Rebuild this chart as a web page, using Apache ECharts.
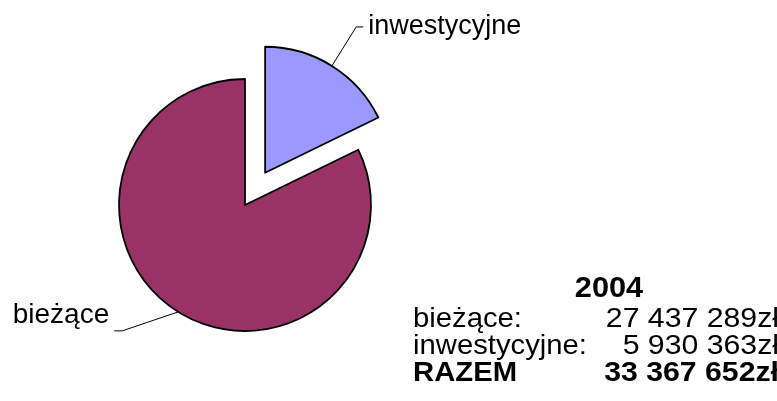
<!DOCTYPE html>
<html>
<head>
<meta charset="utf-8">
<script src="https://cdn.jsdelivr.net/npm/echarts@6/dist/echarts.min.js"></script>
<style>
html,body{margin:0;padding:0;background:#fff;}
#main{width:777px;height:401px;}
</style>
</head>
<body>
<div id="main"></div>
<script>
const categories = ['inwestycyjne', 'bieżące'];
const values = [5930363, 27437289];
const sliceColors = ['#9999FF', '#993366'];
const year = '2004';
const totalLabel = 'RAZEM';
const currency = 'zł';

function fmt(n) {
  return String(n).replace(/\B(?=(\d{3})+(?!\d))/g, ' ') + currency;
}
const total = values.reduce((a, b) => a + b, 0);
const FONT = '"Liberation Sans", Arial, sans-serif';
const SX = 1.06;

// table rows: bieżące, inwestycyjne, RAZEM
const rows = [
  { name: categories[1] + ':', value: fmt(values[1]), bold: false },
  { name: categories[0] + ':', value: fmt(values[0]), bold: false },
  { name: totalLabel, value: fmt(total), bold: true }
];

function txt(x, y, text, font, align, sx) {
  return {
    type: 'text', x: x, y: y, scaleX: sx,
    style: { text: text, font: font, fill: '#000', align: align, verticalAlign: 'middle', textAlign: align, textVerticalAlign: 'middle' }
  };
}

const graphics = [txt(609, 288.5, year, 'bold 29px ' + FONT, 'center', SX)];
rows.forEach((r, i) => {
  const y = 319 + i * 27;
  const f = (r.bold ? 'bold ' : '') + '28px ' + FONT;
  graphics.push(txt(413, y, r.name, f, 'left', 1.045));
  graphics.push(txt(779, y, r.value, f, 'right', 1.08));
});

const chart = echarts.init(document.getElementById('main'), null, { renderer: 'canvas' });
chart.setOption({
  backgroundColor: '#fff',
  animation: false,
  graphic: graphics,
  series: [{
    type: 'pie',
    center: [245, 205],
    radius: 126,
    startAngle: 90,
    clockwise: true,
    selectedMode: 'single',
    selectedOffset: 38,
    avoidLabelOverlap: false,
    emphasis: { disabled: true },
    itemStyle: { borderColor: '#000', borderWidth: 1.8 },
    label: { show: true, formatter: '{b}', fontSize: 27, fontFamily: FONT, color: '#000', distanceToLabelLine: 5 },
    labelLine: { show: true, length: 46, length2: 7, smooth: false, lineStyle: { color: '#000', width: 1 } },
    labelLayout: function (params) {
      if (params.dataIndex !== 1 || !params.labelLinePoints) return {};
      const s = params.labelLinePoints[0];
      const elbow = [s[0] - 56, s[1] + 19];
      const end = [elbow[0] - 8, elbow[1]];
      return { x: end[0] - 5, y: end[1] - 16, align: 'right', verticalAlign: 'middle', fontSize: 28, labelLinePoints: [s, elbow, end] };
    },
    data: categories.map((c, i) => ({
      name: c, value: values[i], selected: i === 0,
      itemStyle: { color: sliceColors[i] }
    }))
  }]
});
</script>
</body>
</html>
